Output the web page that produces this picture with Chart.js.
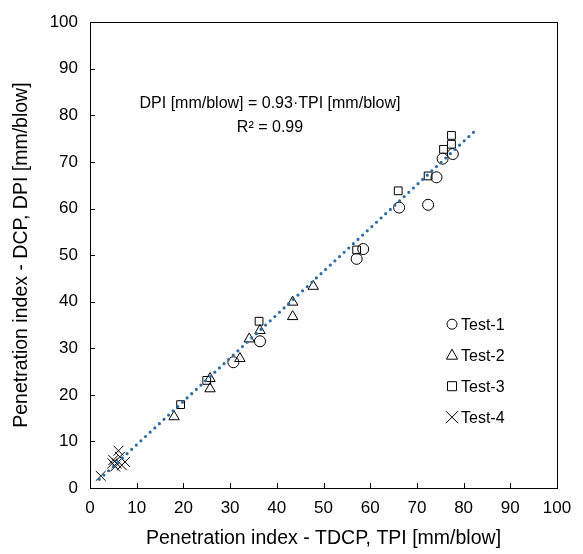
<!DOCTYPE html>
<html>
<head>
<meta charset="utf-8">
<script src="https://cdn.jsdelivr.net/npm/chart.js@4.4.1/dist/chart.umd.min.js"></script>
<style>
  html, body { margin: 0; padding: 0; background: #fff; }
  #wrap { width: 583px; height: 554px; }
</style>
</head>
<body>
<div id="wrap"><canvas id="myChart" width="583" height="554"></canvas></div>
<script>
// values (TPI on x, DPI on y)
const test1X = [30.7, 36.4, 57.1, 58.5, 66.2, 72.4, 74.2, 75.5, 77.7];
const test1Y = [27.0, 31.5, 49.2, 51.3, 60.2, 60.8, 66.7, 70.7, 71.7];
const test2X = [18.0, 25.7, 25.7, 32.1, 34.1, 36.4, 43.4, 43.4, 47.8];
const test2Y = [15.3, 21.3, 23.5, 27.8, 32.0, 33.8, 36.8, 39.9, 43.3];
const test3X = [19.4, 25.0, 36.2, 57.1, 66.0, 72.4, 75.7, 77.4, 77.4];
const test3Y = [17.9, 23.1, 35.8, 51.1, 63.8, 67.0, 72.7, 73.8, 75.7];
const test4X = [2.3, 4.8, 5.0, 5.4, 5.7, 6.1, 6.4, 6.8, 7.5];
const test4Y = [2.6, 5.3, 6.0, 4.6, 5.3, 8.0, 6.7, 4.9, 5.6];
const trendX = [2, 83];
const slope = 0.93;
const seriesNames = ["Test-1", "Test-2", "Test-3", "Test-4"];
const axisTicks = [0, 10, 20, 30, 40, 50, 60, 70, 80, 90, 100];

const pts = (xs, ys) => xs.map((x, i) => ({ x: x, y: ys[i] }));
const FONT = "'Liberation Sans', Arial, sans-serif";
const markerStyles = ["circle", "triangle", "rect", "crossRot"];

function grafikPenetrasi() {
  const ctx = document.getElementById("myChart").getContext("2d");

  const frame = {
    id: "frame",
    afterDraw(chart) {
      const c = chart.ctx;
      const a = chart.chartArea;
      const xs = chart.scales.x, ys = chart.scales.y;
      c.save();
      c.strokeStyle = "#000";
      c.lineWidth = 1;
      c.strokeRect(Math.round(a.left) + 0.5, Math.round(a.top) + 0.5,
        Math.round(a.right - a.left), Math.round(a.bottom - a.top));
      c.beginPath();
      axisTicks.forEach(v => {
        const px = Math.round(xs.getPixelForValue(v)) + 0.5;
        c.moveTo(px, a.bottom); c.lineTo(px, a.bottom - 5);
        const py = Math.round(ys.getPixelForValue(v)) + 0.5;
        c.moveTo(a.left, py); c.lineTo(a.left + 5, py);
      });
      c.stroke();

      // equation text
      c.fillStyle = "#000";
      c.font = "16px " + FONT;
      c.textAlign = "center";
      c.textBaseline = "middle";
      const tx = a.left + 180;
      c.fillText("DPI [mm/blow] = " + slope.toFixed(2) + "·TPI [mm/blow]", tx, a.top + 81);
      c.fillText("R² = 0.99", tx, a.top + 105);

      // legend inside plot area
      c.textAlign = "left";
      const lx = a.left + 362;
      seriesNames.forEach((name, i) => {
        const ly = a.top + 302 + i * 31;
        c.strokeStyle = "#000";
        c.lineWidth = 1;
        c.beginPath();
        const r = 5;
        if (i === 0) {
          c.arc(lx, ly, r, 0, Math.PI * 2);
        } else if (i === 1) {
          c.moveTo(lx, ly - r - 1); c.lineTo(lx + r + 0.5, ly + r - 1);
          c.lineTo(lx - r - 0.5, ly + r - 1); c.closePath();
        } else if (i === 2) {
          c.rect(lx - 4.5, ly - 4.5, 9, 9);
        } else {
          c.moveTo(lx - 6, ly - 6); c.lineTo(lx + 6, ly + 6);
          c.moveTo(lx + 6, ly - 6); c.lineTo(lx - 6, ly + 6);
        }
        c.stroke();
        c.fillText(name, lx + 9, ly + 1);
      });
      c.restore();
    },
  };

  const markerSet = (label, data, style, radius) => ({
    type: "scatter",
    label: label,
    data: data,
    pointStyle: style,
    pointRadius: radius,
    pointHoverRadius: radius,
    pointBorderWidth: 1,
    pointBorderColor: "#000",
    pointBackgroundColor: "rgba(0,0,0,0)",
    borderColor: "#000",
    backgroundColor: "rgba(0,0,0,0)",
    showLine: false,
  });

  new Chart(ctx, {
    type: "scatter",
    data: {
      datasets: [
        markerSet(seriesNames[0], pts(test1X, test1Y), markerStyles[0], 5.5),
        markerSet(seriesNames[1], pts(test2X, test2Y), markerStyles[1], 6),
        markerSet(seriesNames[2], pts(test3X, test3Y), markerStyles[2], 5.5),
        markerSet(seriesNames[3], pts(test4X, test4Y), markerStyles[3], 7),
        {
          type: "line",
          label: "Trend",
          data: trendX.map(x => ({ x: x, y: slope * x })),
          borderColor: "#2e6da4",
          borderWidth: 3.2,
          borderCapStyle: "round",
          borderDash: [0, 6.3],
          pointRadius: 0,
          fill: false,
          order: -1,
        },
      ],
    },
    options: {
      responsive: false,
      animation: false,
      events: [],
      layout: { padding: { top: 21, right: 26, left: 0, bottom: 0 } },
      plugins: {
        legend: { display: false },
        tooltip: { enabled: false },
      },
      scales: {
        x: {
          type: "linear",
          min: 0,
          max: 100,
          afterFit(s) { s.height = 66; },
          afterBuildTicks(s) { s.ticks = axisTicks.map(v => ({ value: v })); },
          grid: { display: false, drawTicks: false },
          border: { display: false },
          ticks: { color: "#000", font: { family: FONT, size: 17 }, padding: 10, maxRotation: 0 },
          title: {
            display: true,
            text: "Penetration index - TDCP, TPI [mm/blow]",
            color: "#000",
            font: { family: FONT, size: 19.5 },
            padding: { top: 4, bottom: 4 },
          },
        },
        y: {
          type: "linear",
          min: 0,
          max: 100,
          afterFit(s) { s.width = 90; },
          afterBuildTicks(s) { s.ticks = axisTicks.map(v => ({ value: v })); },
          grid: { display: false, drawTicks: false },
          border: { display: false },
          ticks: { color: "#000", font: { family: FONT, size: 17 }, padding: 12 },
          title: {
            display: true,
            text: "Penetration index - DCP, DPI [mm/blow]",
            color: "#000",
            font: { family: FONT, size: 19.5 },
            padding: { top: 10, bottom: 0 },
          },
        },
      },
    },
    plugins: [frame],
  });
}

grafikPenetrasi();
</script>
</body>
</html>
